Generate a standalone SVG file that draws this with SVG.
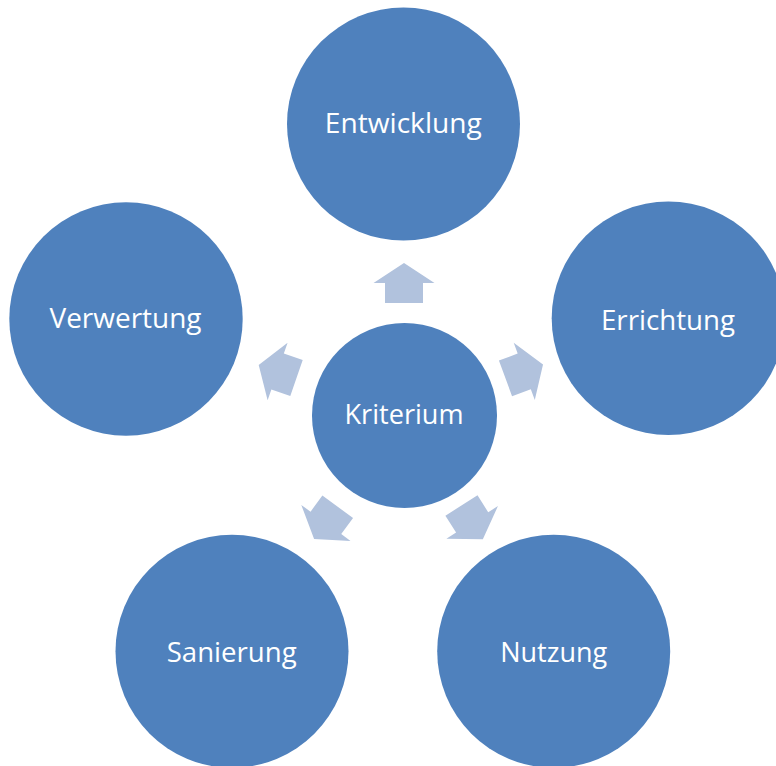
<svg xmlns="http://www.w3.org/2000/svg" width="776" height="766" viewBox="0 0 776 766">
  <defs>
    <style>
      .node { fill: #4F81BD; }
      .label { fill: #FFFFFF; font-family: "Open Sans", "Noto Sans", "Liberation Sans", sans-serif; font-size: 27px; text-anchor: middle; }
      .arrow { fill: #B1C2DD; }
    </style>
    <!-- block arrow pointing up, head base at the origin -->
    <path id="blockArrow" d="M0,-20 L30.5,0 L19,0 L19,20 L-19,20 L-19,0 L-30.5,0 Z"/>
  </defs>
  <rect width="776" height="766" fill="#FFFFFF"/>

  <g id="connectors">
    <use href="#blockArrow" class="arrow" transform="translate(404,283)"/>
    <use href="#blockArrow" class="arrow" transform="translate(524.25,371.4) rotate(69.78)"/>
    <use href="#blockArrow" class="arrow" transform="translate(472.15,522.4) rotate(147.68)"/>
    <use href="#blockArrow" class="arrow" transform="translate(325.9,522.9) rotate(216.19)"/>
    <use href="#blockArrow" class="arrow" transform="translate(277.6,371.5) rotate(-70.89)"/>
  </g>

  <g id="node-kriterium">
    <circle class="node" cx="404.5" cy="415.5" r="92.5"/>
    <text class="label" x="404" y="424" textLength="119" lengthAdjust="spacingAndGlyphs">Kriterium</text>
  </g>
  <g id="node-entwicklung">
    <circle class="node" cx="403.5" cy="124" r="116.5"/>
    <text class="label" x="403.3" y="133.3" textLength="157" lengthAdjust="spacingAndGlyphs">Entwicklung</text>
  </g>
  <g id="node-errichtung">
    <circle class="node" cx="668.4" cy="318.3" r="116.7"/>
    <text class="label" x="668" y="330" textLength="134" lengthAdjust="spacingAndGlyphs">Errichtung</text>
  </g>
  <g id="node-nutzung">
    <circle class="node" cx="553.7" cy="651.3" r="116.5"/>
    <text class="label" x="553.7" y="661.7" textLength="107" lengthAdjust="spacingAndGlyphs">Nutzung</text>
  </g>
  <g id="node-sanierung">
    <circle class="node" cx="232" cy="651.3" r="116.5"/>
    <text class="label" x="231.7" y="661.7" textLength="130" lengthAdjust="spacingAndGlyphs">Sanierung</text>
  </g>
  <g id="node-verwertung">
    <circle class="node" cx="126" cy="319" r="116.7"/>
    <text class="label" x="125.5" y="328.3" textLength="152" lengthAdjust="spacingAndGlyphs">Verwertung</text>
  </g>
</svg>
